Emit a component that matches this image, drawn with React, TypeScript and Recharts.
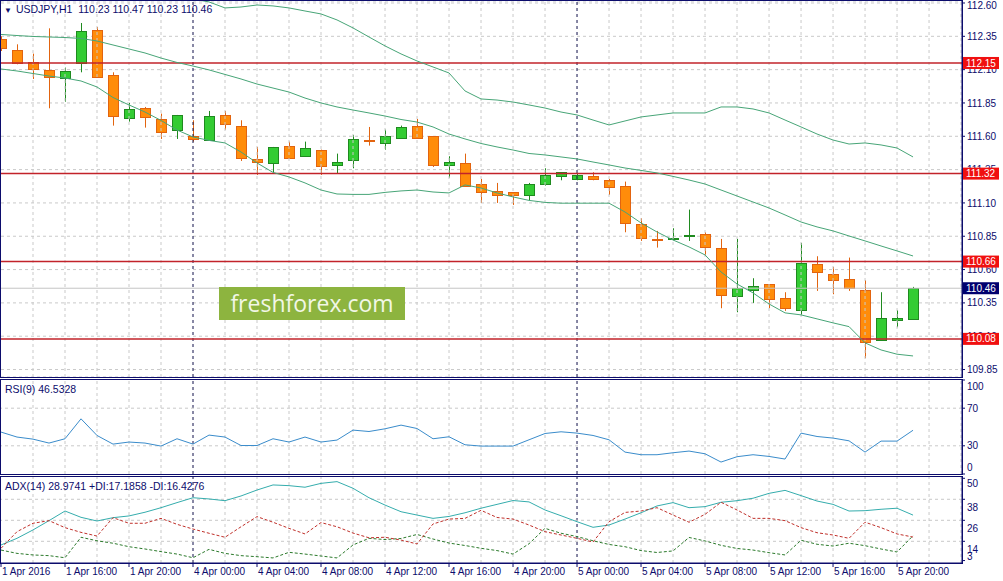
import React from 'react'
import { ComposedChart, Bar, Line, XAxis, YAxis, CartesianGrid, ReferenceLine } from 'recharts'

const NAVY = '#0c0c6c'
const FONT = '"Liberation Sans", Arial, sans-serif'
const GRID = '#c9c9c9'

// hourly candles, 1 Apr 12:00 -> 5 Apr 21:00
const opens = [112.33, 112.25, 112.16, 112.10, 112.04, 112.15, 112.40, 112.06, 111.74, 111.81, 111.73, 111.65, 111.60, 111.57, 111.76, 111.68, 111.43, 111.40, 111.53, 111.45, 111.50, 111.39, 111.42, 111.57, 111.55, 111.59, 111.68, 111.60, 111.39, 111.40, 111.24, 111.19, 111.18, 111.155, 111.24, 111.30, 111.28, 111.30, 111.27, 111.23, 110.94, 110.827, 110.825, 110.85, 110.87, 110.76, 110.40, 110.445, 110.49, 110.385, 110.295, 110.64, 110.565, 110.53, 110.445, 110.07, 110.227, 110.23]
const highs = [112.35, 112.29, 112.22, 112.41, 112.115, 112.45, 112.42, 112.08, 111.85, 111.82, 111.77, 111.76, 111.72, 111.79, 111.79, 111.72, 111.52, 111.52, 111.56, 111.56, 111.50, 111.47, 111.61, 111.67, 111.65, 111.68, 111.73, 111.60, 111.45, 111.47, 111.28, 111.25, 111.18, 111.25, 111.36, 111.33, 111.32, 111.33, 111.28, 111.26, 110.985, 110.89, 110.91, 111.05, 110.88, 110.83, 110.83, 110.535, 110.49, 110.43, 110.80, 110.70, 110.62, 110.69, 110.52, 110.43, 110.295, 110.47]
const lows = [112.24, 112.14, 112.03, 111.81, 111.86, 112.08, 112.045, 111.68, 111.71, 111.665, 111.58, 111.58, 111.56, 111.57, 111.65, 111.415, 111.31, 111.33, 111.43, 111.45, 111.31, 111.32, 111.36, 111.53, 111.50, 111.58, 111.58, 111.37, 111.29, 111.22, 111.10, 111.10, 111.085, 111.12, 111.23, 111.27, 111.27, 111.27, 111.16, 110.88, 110.815, 110.765, 110.82, 110.815, 110.71, 110.31, 110.28, 110.35, 110.31, 110.29, 110.26, 110.44, 110.415, 110.44, 109.935, 110.07, 110.167, 110.23]
const closes = [112.26, 112.15, 112.11, 112.05, 112.09, 112.39, 112.05, 111.75, 111.805, 111.74, 111.635, 111.76, 111.58, 111.75, 111.69, 111.44, 111.41, 111.52, 111.44, 111.51, 111.38, 111.41, 111.58, 111.56, 111.60, 111.67, 111.59, 111.38, 111.41, 111.23, 111.18, 111.16, 111.16, 111.24, 111.31, 111.33, 111.31, 111.28, 111.22, 110.95, 110.835, 110.817, 110.835, 110.86, 110.77, 110.41, 110.46, 110.475, 110.38, 110.31, 110.65, 110.58, 110.52, 110.46, 110.055, 110.235, 110.24, 110.46]

// Bollinger bands
const bbUpper = [112.63, 112.63, 112.638, 112.638, 112.638, 112.638, 112.638, 112.645, 112.653, 112.653, 112.66, 112.653, 112.63, 112.608, 112.563, 112.57, 112.585, 112.578, 112.563, 112.54, 112.518, 112.473, 112.413, 112.345, 112.278, 112.218, 112.165, 112.12, 112.075, 111.94, 111.88, 111.872, 111.857, 111.835, 111.812, 111.782, 111.76, 111.722, 111.685, 111.715, 111.745, 111.76, 111.775, 111.775, 111.775, 111.82, 111.82, 111.805, 111.775, 111.722, 111.67, 111.617, 111.572, 111.542, 111.55, 111.535, 111.512, 111.445]
const bbMiddle = [112.364, 112.356, 112.349, 112.345, 112.341, 112.334, 112.315, 112.285, 112.255, 112.225, 112.187, 112.154, 112.127, 112.098, 112.064, 112.03, 111.992, 111.962, 111.932, 111.887, 111.85, 111.82, 111.797, 111.775, 111.752, 111.726, 111.707, 111.67, 111.617, 111.58, 111.546, 111.52, 111.497, 111.471, 111.46, 111.445, 111.43, 111.407, 111.385, 111.362, 111.344, 111.325, 111.299, 111.272, 111.242, 111.197, 111.152, 111.107, 111.062, 111.01, 110.957, 110.92, 110.89, 110.852, 110.815, 110.777, 110.74, 110.702]
const bbLower = [112.105, 112.09, 112.071, 112.052, 112.037, 112.015, 111.97, 111.891, 111.835, 111.782, 111.719, 111.647, 111.595, 111.569, 111.55, 111.482, 111.4, 111.329, 111.295, 111.25, 111.197, 111.167, 111.164, 111.164, 111.179, 111.19, 111.197, 111.182, 111.175, 111.235, 111.212, 111.175, 111.145, 111.119, 111.104, 111.098, 111.098, 111.098, 111.098, 111.032, 110.95, 110.882, 110.822, 110.77, 110.71, 110.582, 110.492, 110.425, 110.342, 110.275, 110.26, 110.23, 110.2, 110.172, 110.05, 109.997, 109.965, 109.952]

const rsiValues = [44.6, 39.3, 37.1, 32.9, 37.5, 58.7, 41.0, 31.8, 34.0, 32.9, 29.7, 37.5, 31.8, 41.4, 39.3, 30.3, 30.3, 37.5, 34.0, 39.3, 34.0, 36.1, 46.7, 45.2, 48.1, 52.0, 48.4, 37.5, 39.6, 31.1, 29.7, 29.7, 29.7, 36.4, 43.1, 44.9, 43.5, 41.0, 36.4, 23.3, 20.5, 20.5, 22.6, 24.4, 21.5, 12.7, 18.4, 20.5, 18.7, 15.9, 43.5, 39.9, 38.2, 35.3, 23.3, 35.0, 35.0, 46.53]
const adxValues = [11.9, 15.7, 20.5, 25.8, 31.3, 27.7, 25.6, 27.5, 28.5, 30.6, 33.2, 36.1, 38.9, 38.2, 37.2, 39.9, 43.3, 46.2, 45.8, 44.9, 47.1, 48.1, 44.3, 38.9, 34.7, 30.9, 29.0, 27.1, 28.2, 30.3, 32.9, 35.1, 37.3, 36.5, 31.9, 28.6, 25.2, 22.0, 23.3, 26.7, 30.3, 34.2, 36.1, 33.2, 33.8, 36.3, 37.2, 38.6, 41.4, 43.1, 40.1, 37.0, 35.1, 31.3, 31.5, 32.3, 32.9, 28.97]
const plusDi = [9.0, 7.1, 6.2, 5.8, 4.6, 16.3, 14.3, 12.9, 10.9, 9.6, 8.1, 6.7, 4.6, 9.4, 7.1, 5.8, 5.2, 4.5, 7.7, 6.7, 5.6, 4.5, 11.9, 15.7, 15.0, 15.6, 17.9, 15.3, 13.0, 11.6, 10.0, 8.7, 6.7, 12.6, 21.4, 18.6, 16.7, 14.3, 12.2, 10.9, 8.7, 7.6, 8.5, 16.2, 14.2, 11.7, 9.9, 9.0, 7.5, 6.2, 14.6, 12.3, 11.3, 12.9, 11.5, 9.6, 7.9, 17.19]
const minusDi = [10.0, 19.5, 24.3, 25.8, 21.8, 19.1, 17.0, 27.5, 24.3, 24.3, 27.1, 23.7, 21.0, 18.6, 16.3, 22.3, 28.1, 24.9, 21.4, 18.2, 24.7, 22.3, 18.7, 16.0, 16.3, 14.7, 12.5, 23.9, 26.7, 27.1, 31.7, 27.6, 26.7, 23.3, 19.5, 17.6, 15.7, 13.6, 25.2, 30.5, 31.3, 33.2, 29.0, 24.9, 29.4, 36.3, 31.9, 27.1, 27.1, 25.8, 21.8, 18.9, 17.6, 15.7, 24.9, 21.8, 18.2, 16.43]

const timeLabels = ['1 Apr 2016', '1 Apr 16:00', '1 Apr 20:00', '4 Apr 00:00', '4 Apr 04:00', '4 Apr 08:00', '4 Apr 12:00', '4 Apr 16:00', '4 Apr 20:00', '5 Apr 00:00', '5 Apr 04:00', '5 Apr 08:00', '5 Apr 12:00', '5 Apr 16:00', '5 Apr 20:00']
const priceTicks = [112.6, 112.35, 112.1, 111.85, 111.6, 111.35, 111.1, 110.85, 110.6, 110.35, 110.1, 109.85]
const levels = [112.15, 111.32, 110.66, 110.08]
const lastPrice = 110.46
const rsiTicks = [100, 70, 30, 0]
const rsiLevels = [70, 30]
const adxTicks = [50, 38, 26, 14, 3]
const adxLevels = [38, 26, 14]
const daySeparators = [12, 36]

const X_DOMAIN: [number, number] = [0, 60.06]
const PRICE_DOMAIN: [number, number] = [109.794, 112.615]
const gridIdx = Array.from({ length: 30 }, (_, k) => 2 + k * 2).filter(v => !daySeparators.includes(v))
const timeTicks = timeLabels.map((_, k) => k * 4)

const data = opens.map((o, i) => ({
  i,
  open: o,
  high: highs[i],
  low: lows[i],
  close: closes[i],
  range: [lows[i], highs[i]],
  upper: bbUpper[i],
  middle: bbMiddle[i],
  lower: bbLower[i],
  rsi: rsiValues[i],
  adx: adxValues[i],
  pdi: plusDi[i],
  mdi: minusDi[i],
}))

function Candle(props: any) {
  const { x, y, width, height, payload } = props
  if (!payload) return null
  const { open, close, high, low } = payload
  const top = Math.min(y, y + height)
  const h = Math.abs(height)
  const k = high > low ? h / (high - low) : 0
  const cx = Math.round(x + width / 2) + 0.5
  const bTop = top + (high - Math.max(open, close)) * k
  const bBot = top + (high - Math.min(open, close)) * k
  const up = close >= open
  const stroke = up ? '#1f8a1f' : '#e2640f'
  const fill = up ? '#33cc33' : '#ff8c0a'
  return (
    <g>
      <line x1={cx} x2={cx} y1={top} y2={top + h} stroke={stroke} strokeWidth={1} />
      <rect x={cx - 5} y={Math.round(bTop) + 0.5} width={10} height={Math.max(Math.round(bBot - bTop), 1)} fill={fill} stroke={stroke} strokeWidth={1} />
    </g>
  )
}

function PriceTag(props: any) {
  const { viewBox, text, bg } = props
  if (!viewBox) return null
  const x = viewBox.x + viewBox.width
  const y = viewBox.y
  return (
    <g>
      <rect x={x + 1} y={y - 6} width={36} height={12} fill={bg} />
      <text x={x + 4} y={y} dy="0.36em" fill="#fff" fontSize={10} fontFamily={FONT}>{text}</text>
    </g>
  )
}

function PriceTick(props: any) {
  const { x, y, payload } = props
  const dy = payload.value >= 112.6 ? 2 : 0
  return (
    <text x={x} y={y + dy} dy="0.36em" fill={NAVY} fontSize={10} fontFamily={FONT} textAnchor="start">{Number(payload.value).toFixed(2)}</text>
  )
}

function SubTick(props: any) {
  const { x, y, payload, shift } = props
  const dy = shift(payload.value)
  return (
    <text x={x} y={y + dy} dy="0.36em" fill={NAVY} fontSize={10} fontFamily={FONT} textAnchor="start">{payload.value}</text>
  )
}

function TimeTick(props: any) {
  const { x, y, payload } = props
  const label = timeLabels[timeTicks.indexOf(payload.value)]
  return (
    <text x={x + 1} y={y} dy="0.8em" fill={NAVY} fontSize={10} fontFamily={FONT} textAnchor="start">{label}</text>
  )
}

const vGrid = (key: string) => [
  ...gridIdx.map(g => <ReferenceLine key={key + 'g' + g} x={g} stroke={GRID} strokeDasharray="3 3" />),
  ...daySeparators.map(d => <ReferenceLine key={key + 'd' + d} x={d} stroke="#10104a" strokeDasharray="3 3" />),
]

const frame = (top: number, height: number): React.CSSProperties => ({
  position: 'absolute', left: 0, top, width: 963, height, boxSizing: 'border-box',
  border: `1px solid ${NAVY}`, pointerEvents: 'none',
})

const textStyle: React.CSSProperties = { position: 'absolute', color: NAVY, fontSize: 10.5, fontFamily: FONT, whiteSpace: 'nowrap', lineHeight: '12px' }

export default function App() {
  return (
    <div style={{ position: 'absolute', left: 0, top: 0, width: 1003, height: 581, background: '#fff', overflow: 'hidden' }}>
      {/* price panel */}
      <div style={{ position: 'absolute', left: 0, top: 0 }}>
        <ComposedChart width={1003} height={378} data={data} margin={{ top: 1, right: 0, bottom: 1, left: 1 }}>
          <CartesianGrid vertical={false} stroke={GRID} strokeDasharray="3 3" />
          <XAxis type="number" dataKey="i" domain={X_DOMAIN} hide allowDataOverflow />
          <YAxis orientation="right" width={41} domain={PRICE_DOMAIN} allowDataOverflow ticks={priceTicks} interval={0}
            tick={<PriceTick />} axisLine={{ stroke: NAVY }} tickLine={{ stroke: NAVY }} tickSize={3} tickMargin={2} />
          {vGrid('p')}
          <ReferenceLine y={lastPrice} stroke="#c4c4c4" />
          {levels.map(l => (
            <ReferenceLine key={l} y={l} stroke="#c2232a" strokeWidth={1.5} />
          ))}
          <Line dataKey="upper" stroke="#47a577" strokeWidth={1} dot={false} isAnimationActive={false} />
          <Line dataKey="middle" stroke="#47a577" strokeWidth={1} dot={false} isAnimationActive={false} />
          <Line dataKey="lower" stroke="#47a577" strokeWidth={1} dot={false} isAnimationActive={false} />
          <Bar dataKey="range" barSize={10} shape={(p: any) => <Candle {...p} />} isAnimationActive={false} />
        </ComposedChart>
      </div>
      {/* price tags drawn above the axis labels */}
      <div style={{ position: 'absolute', left: 0, top: 0, pointerEvents: 'none' }}>
        <ComposedChart width={1003} height={378} data={data} margin={{ top: 1, right: 41, bottom: 1, left: 1 }}>
          <XAxis type="number" dataKey="i" domain={X_DOMAIN} hide allowDataOverflow />
          <YAxis hide domain={PRICE_DOMAIN} allowDataOverflow />
          <ReferenceLine y={lastPrice} stroke="none" label={<PriceTag text={lastPrice.toFixed(2)} bg="#00006e" />} />
          {levels.map(l => (
            <ReferenceLine key={l} y={l} stroke="none" label={<PriceTag text={l.toFixed(2)} bg="#f01010" />} />
          ))}
        </ComposedChart>
      </div>
      <div style={frame(0, 378)} />
      <div style={{ ...textStyle, left: 4, top: 3 }}>
        <span style={{ fontSize: 8, marginRight: 4 }}>▼</span>USDJPY,H1&nbsp;&nbsp;110.23 110.47 110.23 110.46
      </div>
      <div style={{ position: 'absolute', left: 219, top: 287, width: 186, height: 33, background: '#8db43f', color: '#f2f7e6', fontFamily: '"Open Sans", sans-serif', fontSize: 23, lineHeight: '33px', textAlign: 'center' }}>
        freshforex.com
      </div>

      {/* RSI panel */}
      <div style={{ position: 'absolute', left: 0, top: 379 }}>
        <ComposedChart width={1003} height={96} data={data} margin={{ top: 1, right: 0, bottom: 1, left: 1 }}>
          <XAxis type="number" dataKey="i" domain={X_DOMAIN} hide allowDataOverflow />
          <YAxis orientation="right" width={41} domain={[0, 100]} ticks={rsiTicks} interval={0}
            tick={<SubTick shift={(v: number) => (v === 100 ? 6 : v === 0 ? -7 : 0)} />}
            axisLine={{ stroke: NAVY }} tickLine={{ stroke: NAVY }} tickSize={3} tickMargin={2} />
          {vGrid('r')}
          {rsiLevels.map(l => <ReferenceLine key={l} y={l} stroke={GRID} strokeDasharray="3 3" />)}
          <Line dataKey="rsi" stroke="#3a8ccb" strokeWidth={1} dot={false} isAnimationActive={false} />
        </ComposedChart>
      </div>
      <div style={frame(379, 96)} />
      <div style={{ ...textStyle, left: 5, top: 383 }}>RSI(9) 46.5328</div>

      {/* ADX panel */}
      <div style={{ position: 'absolute', left: 0, top: 476 }}>
        <ComposedChart width={1003} height={105} data={data} margin={{ top: 1, right: 0, bottom: 0, left: 1 }}>
          <XAxis type="number" dataKey="i" domain={X_DOMAIN} allowDataOverflow ticks={timeTicks} interval={0} height={18}
            tick={<TimeTick />} axisLine={{ stroke: NAVY }} tickLine={{ stroke: NAVY }} tickSize={4} tickMargin={0} />
          <YAxis orientation="right" width={41} domain={[1.6, 50.74]} allowDataOverflow ticks={adxTicks} interval={0}
            tick={<SubTick shift={(v: number) => (v === 50 ? 5 : v === 3 ? -4 : 8)} />}
            axisLine={{ stroke: NAVY }} tickLine={{ stroke: NAVY }} tickSize={3} tickMargin={2} />
          {vGrid('a')}
          {adxLevels.map(l => <ReferenceLine key={l} y={l} stroke={GRID} strokeDasharray="3 3" />)}
          <Line dataKey="adx" stroke="#35adad" strokeWidth={1} dot={false} isAnimationActive={false} />
          <Line dataKey="pdi" stroke="#2c7a2c" strokeWidth={1} strokeDasharray="3 2" dot={false} isAnimationActive={false} />
          <Line dataKey="mdi" stroke="#c0302a" strokeWidth={1} strokeDasharray="3 2" dot={false} isAnimationActive={false} />
        </ComposedChart>
      </div>
      <div style={frame(476, 88)} />
      <div style={{ ...textStyle, left: 5, top: 480 }}>ADX(14) 28.9741 +DI:17.1858 -DI:16.4276</div>
    </div>
  )
}
